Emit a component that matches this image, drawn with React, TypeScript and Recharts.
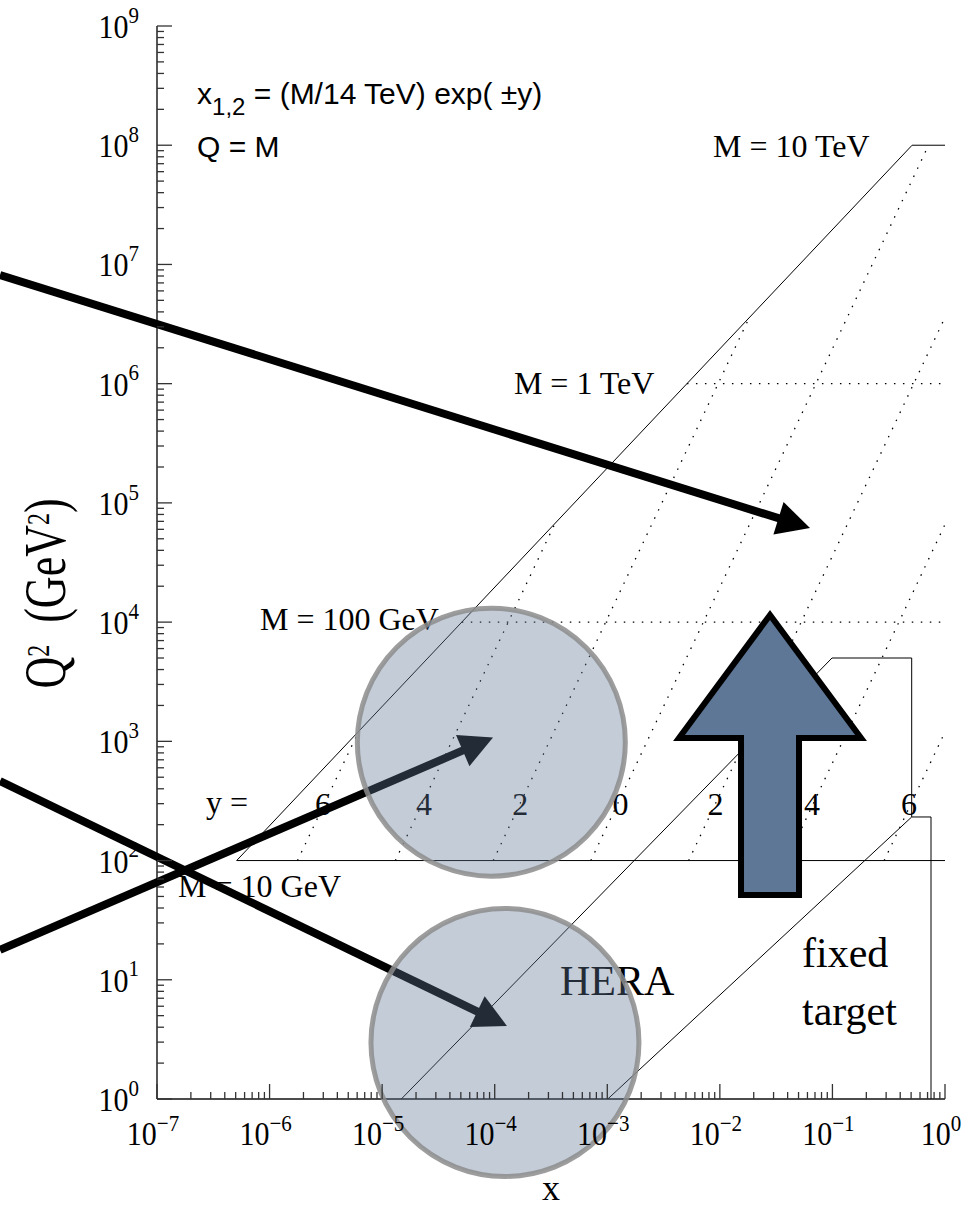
import React from 'react';
import { ComposedChart, Line, XAxis, YAxis, ReferenceDot, ReferenceLine } from 'recharts';

const SERIF = '"Liberation Serif", "Times New Roman", serif';
const SANS = '"Liberation Sans", Arial, sans-serif';

// ---------- axes ----------
const X_DOMAIN: [number, number] = [1e-7, 1];
const Q2_DOMAIN: [number, number] = [1, 1e9];
const X_DECADES = [1e-7, 1e-6, 1e-5, 1e-4, 1e-3, 1e-2, 1e-1, 1];
const Q2_DECADES = [1, 1e1, 1e2, 1e3, 1e4, 1e5, 1e6, 1e7, 1e8, 1e9];
const MINOR_STEPS = [2, 3, 4, 5, 6, 7, 8, 9];

// ---------- kinematic lines (x, Q^2 in GeV^2) ----------
const LIMIT_X = [5.1e-7, 0.51];
const LIMIT_Q2 = [1e2, 1e8];

const MASS_LABELS = ['M = 10 GeV', 'M = 100 GeV', 'M = 1 TeV', 'M = 10 TeV'];
const MASS_Q2 = [1e2, 1e4, 1e6, 1e8];
const MASS_X_START = [5.1e-7, 5.1e-5, 5.1e-3, 0.51];
const MASS_X_END = [1, 1, 1, 1];
const MASS_SOLID = [true, false, false, true];

const RAPIDITY_LABELS = ['6', '4', '2', '0', '2', '4', '6'];
const RAPIDITY_X_BOTTOM = [1.77e-6, 1.31e-5, 9.7e-5, 7.14e-4, 5.28e-3, 3.9e-2, 0.288];
const RAPIDITY_Q2_BOTTOM = [1e2, 1e2, 1e2, 1e2, 1e2, 1e2, 1e2];
const RAPIDITY_X_TOP = [6.15e-6, 3.4e-4, 1.83e-2, 0.714, 1, 1, 1];
const RAPIDITY_Q2_TOP = [1.2e3, 6.6e4, 3.6e6, 1e8, 3.6e6, 6.6e4, 1.2e3];
const RAPIDITY_LABEL_X = [2.99e-6, 2.36e-5, 1.69e-4, 1.31e-3, 9.14e-3, 6.59e-2, 0.479];
const RAPIDITY_LABEL_Q2 = 241;

const HERA_X = [1.48e-5, 0.0991, 0.506, 0.506];
const HERA_Q2 = [1, 5000, 5000, 232];
const FIXED_X = [1.01e-3, 0.506, 0.751, 0.751];
const FIXED_Q2 = [1, 232, 232, 1];

// ---------- annotations (anchored in data coordinates) ----------
const TEXTS = [
  { key: 'm10tev', text: 'M = 10 TeV', x: 8.69e-3, q2: 7.96e7 },
  { key: 'm1tev', text: 'M = 1 TeV', x: 1.48e-4, q2: 8.19e5 },
  { key: 'm100gev', text: 'M = 100 GeV', x: 8.22e-7, q2: 8.59e3 },
  { key: 'm10gev', text: 'M = 10 GeV', x: 1.54e-7, q2: 49.5 },
  { key: 'yeq', text: 'y =', x: 2.72e-7, q2: 250 },
];
const BIG_TEXTS = [
  { key: 'hera', text: 'HERA', x: 3.8e-4, q2: 7.45 },
  { key: 'fixed', text: 'fixed', x: 5.37e-2, q2: 12.8 },
  { key: 'target', text: 'target', x: 5.37e-2, q2: 4.18 },
];
const FORMULA_POS = { x: 2.27e-7, q2: 2.22e8 };
const QM_POS = { x: 2.27e-7, q2: 7.96e7 };

const ARROWS = [
  { key: 'a1', from: { x: 4.03e-9, y: 8.16e6 }, to: { x: 0.0632, y: 6.15e4 } },
  { key: 'a2', from: { x: 4.03e-9, y: 465 }, to: { x: 1.285e-4, y: 4.1 } },
  { key: 'a3', from: { x: 4.03e-9, y: 17.8 }, to: { x: 9.66e-5, y: 1077 } },
];
const CIRCLES = [
  { key: 'c1', x: 9.33e-5, q2: 984 },
  { key: 'c2', x: 1.233e-4, q2: 2.98 },
];
const BIG_ARROW = { from: { x: 2.79e-2, y: 51.4 }, to: { x: 2.79e-2, y: 1.148e4 } };

// ---------- helpers ----------
const buildTicks = (decades: number[]) => {
  const t: number[] = [];
  decades.forEach((d, i) => {
    t.push(d);
    if (i < decades.length - 1) MINOR_STEPS.forEach((m) => t.push(d * m));
  });
  return t;
};
const X_TICKS = buildTicks(X_DECADES);
const Q2_TICKS = buildTicks(Q2_DECADES);

const isMajor = (v: number) => Math.abs(Math.log10(v) - Math.round(Math.log10(v))) < 1e-6;
const expText = (v: number) => {
  const n = Math.round(Math.log10(v));
  return n < 0 ? `\u2212${-n}` : `${n}`;
};

const TICK_COLOR = '#333';
const MAJOR_LEN = 15;
const MINOR_LEN = 7;

const BottomTick = (p: any) => {
  const { x, y, payload } = p;
  const major = isMajor(payload.value);
  return (
    <g>
      <line x1={x} y1={y} x2={x} y2={y - (major ? MAJOR_LEN : MINOR_LEN)} stroke={TICK_COLOR} strokeWidth={1.3} />
      {major && (
        <text
          transform={`translate(${x - 4},${y + 46}) scale(1,1.1)`}
          textAnchor="middle"
          fontFamily={SERIF}
          fontSize={30}
          fill="#000"
        >
          10
          <tspan dy={-13} fontSize={21}>{expText(payload.value)}</tspan>
        </text>
      )}
    </g>
  );
};
const TopTick = (p: any) => {
  const { x, y, payload } = p;
  const major = isMajor(payload.value);
  return <line x1={x} y1={y} x2={x} y2={y + (major ? MAJOR_LEN : MINOR_LEN)} stroke={TICK_COLOR} strokeWidth={1.3} />;
};
const LeftTick = (p: any) => {
  const { x, y, payload } = p;
  const major = isMajor(payload.value);
  return (
    <g>
      <line x1={x} y1={y} x2={x + (major ? MAJOR_LEN : MINOR_LEN)} y2={y} stroke={TICK_COLOR} strokeWidth={1.3} />
      {major && (
        <text
          transform={`translate(${x - 18},${y + 12}) scale(1,1.1)`}
          textAnchor="end"
          fontFamily={SERIF}
          fontSize={30}
          fill="#000"
        >
          10
          <tspan dy={-14} fontSize={21}>{expText(payload.value)}</tspan>
        </text>
      )}
    </g>
  );
};
const RightTick = (p: any) => {
  const { x, y, payload } = p;
  const major = isMajor(payload.value);
  return <line x1={x} y1={y} x2={x - (major ? MAJOR_LEN : MINOR_LEN)} y2={y} stroke={TICK_COLOR} strokeWidth={1.3} />;
};

const XTitle = (p: any) => {
  const vb = p.viewBox || { x: 157, y: 1099, width: 788, height: 111 };
  return (
    <text x={vb.x + vb.width / 2} y={vb.y + 101} textAnchor="middle" fontFamily={SERIF} fontSize={36} fill="#000">
      x
    </text>
  );
};
const YTitle = (p: any) => {
  const vb = p.viewBox || { x: 0, y: 26, width: 157, height: 1073 };
  const cx = vb.x + 65;
  const cy = vb.y + vb.height / 2 + 31;
  return (
    <text
      transform={`translate(${cx},${cy}) rotate(-90) scale(1,1.35)`}
      textAnchor="middle"
      fontFamily={SERIF}
      fontSize={44}
      fill="#000"
    >
      Q<tspan dy={-12} fontSize={24}>2</tspan>
      <tspan dy={12} fontSize={44}>{'\u00a0\u00a0(GeV'}</tspan>
      <tspan dy={-12} fontSize={24}>2</tspan>
      <tspan dy={12} fontSize={44}>)</tspan>
    </text>
  );
};

const ThickArrow = (p: any) => {
  const { x1, y1, x2, y2 } = p;
  if (![x1, y1, x2, y2].every((v) => typeof v === 'number' && isFinite(v))) return null;
  const dx = x2 - x1;
  const dy = y2 - y1;
  const len = Math.hypot(dx, dy);
  const ux = dx / len;
  const uy = dy / len;
  const head = 33;
  const half = 17;
  const bx = x2 - ux * head;
  const by = y2 - uy * head;
  const sx = x2 - ux * head * 0.8;
  const sy = y2 - uy * head * 0.8;
  return (
    <g>
      <line x1={x1} y1={y1} x2={sx} y2={sy} stroke="#000" strokeWidth={8} />
      <polygon
        points={`${x2},${y2} ${bx - uy * half},${by + ux * half} ${bx + uy * half},${by - ux * half}`}
        fill="#000"
      />
    </g>
  );
};

const BlockArrow = (p: any) => {
  const { x1, y1, x2, y2 } = p;
  if (![x1, y1, x2, y2].every((v) => typeof v === 'number' && isFinite(v))) return null;
  const cx = x2;
  const headH = 123;
  const headHalf = 91;
  const shaftHalf = 29;
  const baseY = y2 + headH;
  const pts = [
    [cx, y2],
    [cx + headHalf, baseY],
    [cx + shaftHalf, baseY],
    [cx + shaftHalf, y1],
    [cx - shaftHalf, y1],
    [cx - shaftHalf, baseY],
    [cx - headHalf, baseY],
  ]
    .map((q) => q.join(','))
    .join(' ');
  return <polygon points={pts} fill="#5e7796" stroke="#000" strokeWidth={6} strokeLinejoin="miter" />;
};

const makeText = (text: string, size: number, family: string) => (p: any) => {
  if (!isFinite(p.cx) || !isFinite(p.cy)) return null;
  return (
    <text x={p.cx} y={p.cy} fontFamily={family} fontSize={size} fill="#000">
      {text}
    </text>
  );
};
const makeCenteredText = (text: string, size: number) => (p: any) => {
  if (!isFinite(p.cx) || !isFinite(p.cy)) return null;
  return (
    <text x={p.cx} y={p.cy} textAnchor="middle" fontFamily={SERIF} fontSize={size} fill="#000">
      {text}
    </text>
  );
};
const FormulaText = (p: any) => {
  if (!isFinite(p.cx) || !isFinite(p.cy)) return null;
  return (
    <text x={p.cx} y={p.cy} fontFamily={SANS} fontSize={30} fill="#000">
      x<tspan dy={11} fontSize={24}>1,2</tspan>
      <tspan dy={-11} fontSize={30}>{' = (M/14 TeV) exp( \u00b1y)'}</tspan>
    </text>
  );
};
const CircleShape = (p: any) => {
  if (!isFinite(p.cx) || !isFinite(p.cy)) return null;
  return (
    <circle
      cx={p.cx}
      cy={p.cy}
      r={134}
      fill="rgb(94,118,150)"
      fillOpacity={0.37}
      stroke="rgb(140,140,140)"
      strokeOpacity={0.85}
      strokeWidth={5}
    />
  );
};

const AXIS_LINE = { stroke: '#111', strokeWidth: 1.4 };

const toPts = (xs: number[], qs: number[]) => xs.map((x, i) => ({ x, q2: qs[i] }));

export default function App() {
  return (
    <div style={{ position: 'absolute', left: 0, top: 0, width: 974, height: 1210, background: '#fff' }}>
      <ComposedChart width={974} height={1210} margin={{ top: 26, right: 29, bottom: 0, left: 0 }}>
        <XAxis
          dataKey="x"
          type="number"
          scale="log"
          domain={X_DOMAIN}
          allowDataOverflow
          ticks={X_TICKS}
          interval={0}
          tickSize={0}
          tickMargin={0}
          tickLine={false}
          axisLine={AXIS_LINE}
          tick={(p: any) => <BottomTick {...p} />}
          height={111}
          label={{ content: XTitle }}
        />
        <XAxis
          xAxisId="top"
          orientation="top"
          type="number"
          scale="log"
          domain={X_DOMAIN}
          allowDataOverflow
          ticks={X_TICKS}
          interval={0}
          tickSize={0}
          tickMargin={0}
          tickLine={false}
          axisLine={AXIS_LINE}
          tick={(p: any) => <TopTick {...p} />}
          height={0}
        />
        <YAxis
          type="number"
          scale="log"
          domain={Q2_DOMAIN}
          allowDataOverflow
          ticks={Q2_TICKS}
          interval={0}
          tickSize={0}
          tickMargin={0}
          tickLine={false}
          axisLine={AXIS_LINE}
          tick={(p: any) => <LeftTick {...p} />}
          width={157}
          label={{ content: YTitle }}
        />
        <YAxis
          yAxisId="right"
          orientation="right"
          type="number"
          scale="log"
          domain={Q2_DOMAIN}
          allowDataOverflow
          ticks={Q2_TICKS}
          interval={0}
          tickSize={0}
          tickMargin={0}
          tickLine={false}
          axisLine={AXIS_LINE}
          tick={(p: any) => <RightTick {...p} />}
          width={0}
        />

        <Line
          data={toPts(LIMIT_X, LIMIT_Q2)}
          dataKey="q2"
          stroke="#000"
          strokeWidth={1}
          dot={false}
          activeDot={false}
          isAnimationActive={false}
        />
        {MASS_Q2.map((q2, i) => (
          <Line
            key={`mass-${i}`}
            name={MASS_LABELS[i]}
            data={toPts([MASS_X_START[i], MASS_X_END[i]], [q2, q2])}
            dataKey="q2"
            stroke="#000"
            strokeWidth={MASS_SOLID[i] ? 1 : 1.3}
            strokeDasharray={MASS_SOLID[i] ? undefined : '1.5 7.5'}
            dot={false}
            activeDot={false}
            isAnimationActive={false}
          />
        ))}
        {RAPIDITY_LABELS.map((lab, i) => (
          <Line
            key={`rap-${i}`}
            name={`y${i}`}
            data={toPts([RAPIDITY_X_BOTTOM[i], RAPIDITY_X_TOP[i]], [RAPIDITY_Q2_BOTTOM[i], RAPIDITY_Q2_TOP[i]])}
            dataKey="q2"
            stroke="#000"
            strokeWidth={1.3}
            strokeDasharray="1.5 7.5"
            dot={false}
            activeDot={false}
            isAnimationActive={false}
          />
        ))}
        <Line
          data={toPts(HERA_X, HERA_Q2)}
          dataKey="q2"
          stroke="#000"
          strokeWidth={1}
          dot={false}
          activeDot={false}
          isAnimationActive={false}
        />
        <Line
          data={toPts(FIXED_X, FIXED_Q2)}
          dataKey="q2"
          stroke="#000"
          strokeWidth={1}
          dot={false}
          activeDot={false}
          isAnimationActive={false}
        />

        <ReferenceDot x={FORMULA_POS.x} y={FORMULA_POS.q2} r={0} ifOverflow="visible" shape={FormulaText} zIndex={610} />
        <ReferenceDot x={QM_POS.x} y={QM_POS.q2} r={0} ifOverflow="visible" shape={makeText('Q = M', 30, SANS)} zIndex={610} />
        {TEXTS.map((t) => (
          <ReferenceDot key={t.key} x={t.x} y={t.q2} r={0} ifOverflow="visible" shape={makeText(t.text, 32, SERIF)} zIndex={610} />
        ))}
        {RAPIDITY_LABELS.map((lab, i) => (
          <ReferenceDot
            key={`rl-${i}`}
            x={RAPIDITY_LABEL_X[i]}
            y={RAPIDITY_LABEL_Q2}
            r={0}
            ifOverflow="visible"
            shape={makeCenteredText(lab, 32)}
            zIndex={610}
          />
        ))}
        {BIG_TEXTS.map((t) => (
          <ReferenceDot key={t.key} x={t.x} y={t.q2} r={0} ifOverflow="visible" shape={makeText(t.text, 42, SERIF)} zIndex={610} />
        ))}

        {ARROWS.map((a) => (
          <ReferenceLine key={a.key} segment={[a.from, a.to]} ifOverflow="visible" shape={ThickArrow} zIndex={620} />
        ))}
        {CIRCLES.map((c) => (
          <ReferenceDot key={c.key} x={c.x} y={c.q2} r={134} ifOverflow="visible" shape={CircleShape} zIndex={630} />
        ))}
        <ReferenceLine segment={[BIG_ARROW.from, BIG_ARROW.to]} ifOverflow="visible" shape={BlockArrow} zIndex={640} />
      </ComposedChart>
    </div>
  );
}
